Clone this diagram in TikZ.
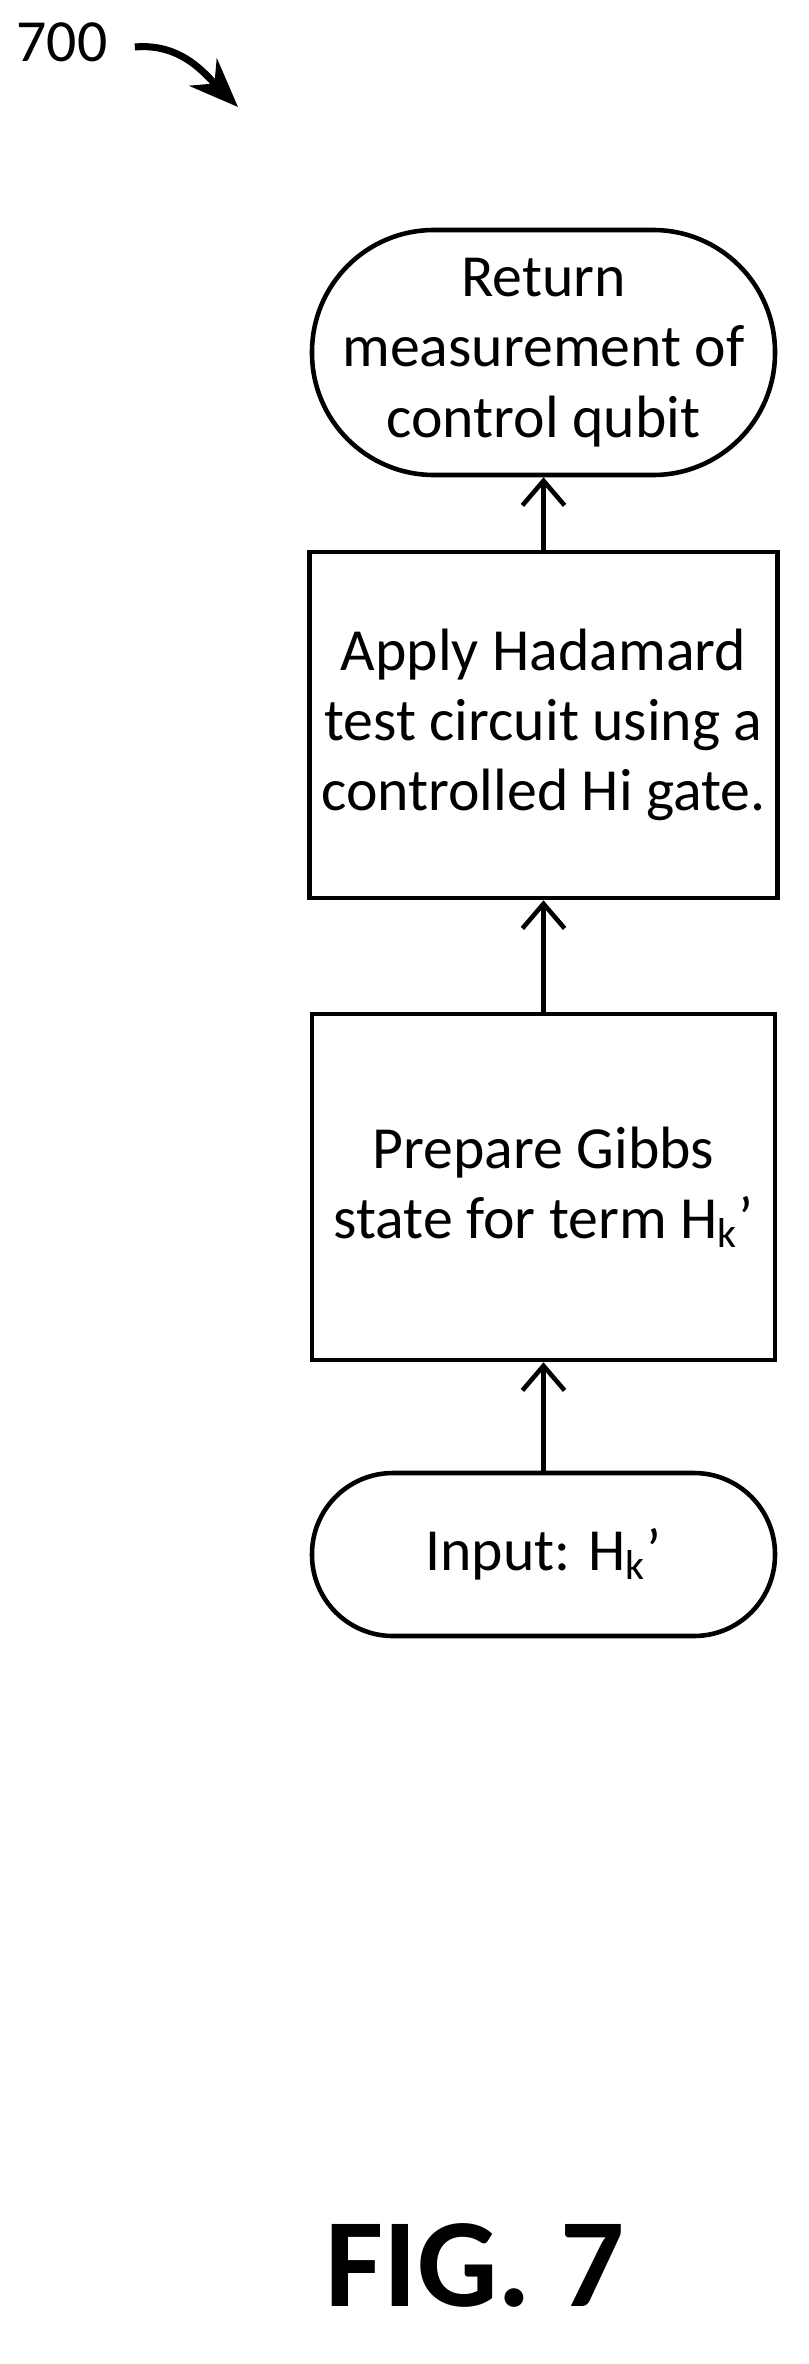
\documentclass[tikz,border=0pt]{standalone}
\usepackage{fontspec}
\setmainfont{Carlito}
\usetikzlibrary{positioning,arrows.meta}

\tikzstyle{stage}=[rectangle,draw,line width=1.3pt,minimum width=4.63cm,align=center,font=\fontsize{17}{20}\selectfont]
\tikzstyle{term}=[stage,rounded corners=1.22cm]
\tikzstyle{flow}=[draw,line width=1.3pt,-{Straight Barb[length=7pt,width=12pt,line width=1.3pt]}]

\begin{document}
\begin{tikzpicture}
	\useasboundingbox (0,0) rectangle (8.09,-23.64);
	\node []                             (label)   at (0.62,-0.42)   {\fontsize{17}{20}\selectfont 700};
	\coordinate                          (tip)     at (2.38,-1.07);
	\node [term,minimum height=2.45cm]   (return)  at (5.435,-3.525) {Return\\measurement of\\control qubit};
	\node [stage,minimum height=3.46cm]  (apply)   at (5.435,-7.25)  {Apply Hadamard\\test circuit using a\\controlled Hi gate.};
	\node [stage,minimum height=3.46cm]  (prepare) at (5.435,-11.87) {Prepare Gibbs\\state for term H\textsubscript{k}’};
	\node [term,minimum height=1.63cm,rounded corners=0.81cm] (input) at (5.435,-15.545) {Input: H\textsubscript{k}’};
	\node []                             (fig)     at (4.75,-22.65)  {\fontsize{36}{40}\selectfont\bfseries FIG. 7};

	\draw [line width=2pt,-{Stealth[length=14pt,width=11pt]}] (label.east) ++(0.15,-0.05) to[out=5,in=135] (tip);
	\draw [flow] (input)   -- (prepare);
	\draw [flow] (prepare) -- (apply);
	\draw [flow] (apply)   -- (return);
\end{tikzpicture}
\end{document}
